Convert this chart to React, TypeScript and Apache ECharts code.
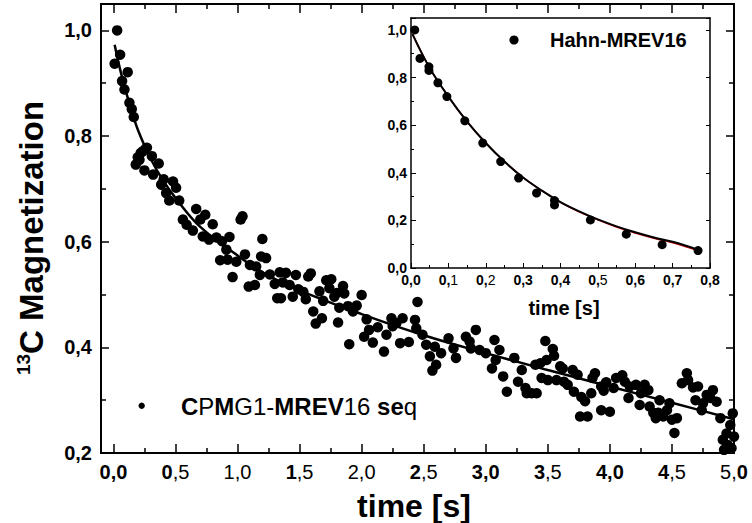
import React, { useEffect, useRef } from "react";
import * as echarts from "echarts";

// ---------------- data ----------------
const mainSeriesName = "CPMG1-MREV16 seq";
const insetSeriesName = "Hahn-MREV16";

const mainTime = [
  0.01, 0.03, 0.054, 0.07, 0.089, 0.115, 0.129, 0.148, 0.164, 0.18, 0.196, 0.21, 0.22, 0.236, 0.25, 0.26, 0.27,
  0.31, 0.32, 0.365, 0.385, 0.405, 0.425, 0.45, 0.48, 0.505, 0.53, 0.56, 0.59, 0.64, 0.667, 0.7, 0.72, 0.74,
  0.77, 0.8, 0.83, 0.86, 0.875, 0.91, 0.92, 0.935, 0.96, 0.99, 1.025, 1.04, 1.06, 1.09, 1.1, 1.14, 1.15, 1.18,
  1.19, 1.2, 1.23, 1.26, 1.3, 1.32, 1.34, 1.35, 1.365, 1.39, 1.42, 1.445, 1.47, 1.49, 1.53, 1.55, 1.57, 1.59,
  1.61, 1.63, 1.66, 1.68, 1.69, 1.715, 1.74, 1.755, 1.78, 1.8, 1.81, 1.82, 1.85, 1.86, 1.89, 1.9, 1.93, 1.96,
  2.0, 2.02, 2.04, 2.06, 2.09, 2.13, 2.18, 2.2, 2.24, 2.25, 2.28, 2.31, 2.33, 2.38, 2.43, 2.44, 2.45, 2.49,
  2.52, 2.55, 2.57, 2.59, 2.6, 2.64, 2.7, 2.74, 2.76, 2.84, 2.87, 2.88, 2.92, 2.95, 3.0, 3.05, 3.07, 3.08,
  3.11, 3.14, 3.17, 3.23, 3.26, 3.29, 3.32, 3.33, 3.37, 3.4, 3.41, 3.44, 3.45, 3.48, 3.49, 3.5, 3.54, 3.55,
  3.57, 3.6, 3.62, 3.63, 3.66, 3.7, 3.71, 3.74, 3.76, 3.77, 3.8, 3.82, 3.85, 3.86, 3.88, 3.93, 3.93, 3.95,
  3.97, 4.0, 4.03, 4.05, 4.1, 4.12, 4.15, 4.16, 4.21, 4.24, 4.25, 4.28, 4.31, 4.32, 4.35, 4.37, 4.39, 4.4,
  4.43, 4.46, 4.48, 4.5, 4.52, 4.54, 4.58, 4.62, 4.63, 4.67, 4.69, 4.71, 4.74, 4.75, 4.78, 4.81, 4.83, 4.86,
  4.89, 4.91, 4.92, 4.94, 4.95, 4.97, 4.98, 4.99, 5.0,
];
const mainMag = [
  0.937, 1.0, 0.954, 0.904, 0.888, 0.921, 0.863, 0.851, 0.836, 0.746, 0.76, 0.755, 0.768, 0.771, 0.735, 0.776, 0.778,
  0.762, 0.727, 0.748, 0.708, 0.718, 0.692, 0.678, 0.714, 0.702, 0.678, 0.642, 0.632, 0.621, 0.662, 0.642, 0.61, 0.651,
  0.604, 0.633, 0.608, 0.565, 0.601, 0.585, 0.566, 0.609, 0.533, 0.562, 0.642, 0.648, 0.576, 0.515, 0.556, 0.518, 0.553, 0.537,
  0.572, 0.605, 0.569, 0.538, 0.52, 0.493, 0.542, 0.493, 0.523, 0.541, 0.518, 0.496, 0.537, 0.51, 0.505, 0.491, 0.534, 0.54,
  0.468, 0.445, 0.506, 0.455, 0.488, 0.527, 0.512, 0.529, 0.496, 0.503, 0.447, 0.475, 0.516, 0.502, 0.478, 0.406, 0.468, 0.479,
  0.499, 0.42, 0.453, 0.433, 0.409, 0.438, 0.392, 0.424, 0.455, 0.44, 0.446, 0.408, 0.455, 0.41, 0.452, 0.436, 0.486, 0.424,
  0.405, 0.383, 0.356, 0.401, 0.367, 0.389, 0.417, 0.398, 0.38, 0.42, 0.411, 0.398, 0.433, 0.395, 0.389, 0.36, 0.414, 0.376,
  0.395, 0.345, 0.316, 0.38, 0.335, 0.357, 0.323, 0.313, 0.313, 0.367, 0.313, 0.37, 0.342, 0.412, 0.376, 0.338, 0.397, 0.384,
  0.338, 0.364, 0.36, 0.335, 0.329, 0.357, 0.316, 0.348, 0.269, 0.306, 0.298, 0.269, 0.313, 0.342, 0.351, 0.326, 0.281, 0.318,
  0.334, 0.278, 0.323, 0.342, 0.347, 0.335, 0.304, 0.326, 0.329, 0.291, 0.313, 0.329, 0.319, 0.288, 0.276, 0.266, 0.276, 0.3,
  0.269, 0.281, 0.294, 0.263, 0.238, 0.266, 0.332, 0.351, 0.338, 0.324, 0.3, 0.326, 0.281, 0.294, 0.31, 0.304, 0.319, 0.297,
  0.266, 0.225, 0.206, 0.237, 0.215, 0.253, 0.209, 0.275, 0.231,
];

const mainFitTime = [0.01, 0.05, 0.1, 0.15, 0.2, 0.3, 0.4, 0.5, 0.7, 1.0, 1.2, 1.5, 2.0, 2.5, 3.0, 3.5, 4.0, 4.5, 5.0];
const mainFitMag = [0.973, 0.93, 0.885, 0.845, 0.81, 0.757, 0.716, 0.683, 0.628, 0.574, 0.542, 0.508, 0.463, 0.423, 0.389, 0.357, 0.326, 0.295, 0.264];

const insetTime = [0.01, 0.024, 0.048, 0.048, 0.072, 0.096, 0.144, 0.192, 0.24, 0.288, 0.336, 0.384, 0.384, 0.48, 0.576, 0.672, 0.768];
const insetMag = [1.0, 0.88, 0.845, 0.83, 0.778, 0.72, 0.618, 0.525, 0.447, 0.378, 0.315, 0.283, 0.265, 0.202, 0.142, 0.098, 0.073];

const insetFitTime = [0.004, 0.05, 0.1, 0.15, 0.2, 0.25, 0.3, 0.35, 0.4, 0.45, 0.5, 0.55, 0.6, 0.65, 0.7, 0.77];
const insetFitMag = [0.982, 0.84, 0.72, 0.615, 0.525, 0.447, 0.38, 0.325, 0.277, 0.238, 0.204, 0.175, 0.15, 0.128, 0.11, 0.076];
const insetFitRedMag = [0.982, 0.84, 0.72, 0.615, 0.525, 0.447, 0.38, 0.325, 0.276, 0.236, 0.202, 0.172, 0.147, 0.125, 0.106, 0.072];

const xTickValues = [0, 0.5, 1, 1.5, 2, 2.5, 3, 3.5, 4, 4.5, 5];
const xTickLabels = ["0,0", "0,5", "1,0", "1,5", "2,0", "2,5", "3,0", "3,5", "4,0", "4,5", "5,0"];
const xMinorValues = [0.25, 0.75, 1.25, 1.75, 2.25, 2.75, 3.25, 3.75, 4.25, 4.75];
const yTickValues = [0.2, 0.4, 0.6, 0.8, 1.0];
const yTickLabels = ["0,2", "0,4", "0,6", "0,8", "1,0"];
const yMinorValues = [0.3, 0.5, 0.7, 0.9];
const insetXTickLabels = ["0,0", "0,1", "0,2", "0,3", "0,4", "0,5", "0,6", "0,7", "0,8"];
const insetYTickLabels = ["0,0", "0,2", "0,4", "0,6", "0,8", "1,0"];

// ---------------- styles ----------------
const FONT = '"Liberation Sans", Arial, Helvetica, sans-serif';
// per-character weight masks (b = bold, n = normal), mimicking the reference rendering
const xLabelMask = ["bbb", "bnn", "nnn", "bnn", "nnn", "bnn", "bbb", "bnn", "bbb", "bnn", "nnb"];
const insetXLabelMask = ["bbb", "bbn", "bbn", "bbb", "bbb", "bbn", "bbb", "bbb", "bbb"];
const legendMask = "bnbnnnbbbbnnnbbn";

function richify(text: string, mask: string) {
  let out = "";
  let cur = "";
  let curStyle = "";
  for (let i = 0; i < text.length; i++) {
    const s = mask[i] === "b" ? "b" : "n";
    if (s !== curStyle && cur) {
      out += `{${curStyle}|${cur}}`;
      cur = "";
    }
    curStyle = s;
    cur += text[i];
  }
  if (cur) out += `{${curStyle}|${cur}}`;
  return out;
}

function richStyles(size: number) {
  return {
    b: { fontFamily: FONT, fontSize: size, fontWeight: "bold", color: "#000" },
    n: { fontFamily: FONT, fontSize: size, fontWeight: "normal", color: "#000" },
  };
}

const BLACK = "#000";

function mainXAxis(position: string, values: number[], len: number, labels: boolean) {
  return {
    type: "value",
    gridIndex: 0,
    min: -0.1,
    max: 5,
    position,
    axisLine: { show: true, onZero: false, lineStyle: { color: BLACK, width: 2 } },
    axisTick: { show: true, inside: true, length: len, customValues: values, lineStyle: { color: BLACK, width: 1.5 } },
    axisLabel: labels
      ? {
          show: true,
          customValues: values,
          margin: 9,
          formatter: (v: number) => {
            const i = xTickValues.findIndex((t) => Math.abs(t - v) < 1e-6);
            return i < 0 ? "" : richify(xTickLabels[i], xLabelMask[i]);
          },
          rich: richStyles(20),
        }
      : { show: false },
    splitLine: { show: false },
  };
}

function mainYAxis(position: string, values: number[], len: number, labels: boolean) {
  return {
    type: "value",
    gridIndex: 0,
    min: 0.2,
    max: 1.05,
    position,
    axisLine: { show: true, onZero: false, lineStyle: { color: BLACK, width: 2 } },
    axisTick: { show: true, inside: true, length: len, customValues: values, lineStyle: { color: BLACK, width: 1.5 } },
    axisLabel: labels
      ? {
          show: true,
          customValues: values,
          margin: 9,
          fontFamily: FONT,
          fontSize: 20,
          fontWeight: "bold",
          color: BLACK,
          formatter: (v: number) => {
            const i = yTickValues.findIndex((t) => Math.abs(t - v) < 1e-6);
            return i < 0 ? "" : yTickLabels[i];
          },
        }
      : { show: false },
    splitLine: { show: false },
  };
}

export default function App() {
  const ref = useRef<HTMLDivElement>(null);

  useEffect(() => {
    if (!ref.current) return;
    const chart = echarts.init(ref.current, null, { renderer: "svg" });

    const option: any = {
      animation: false,
      backgroundColor: "#fff",
      grid: [
        { left: 101, top: 4, width: 633, height: 449, containLabel: false },
        { left: 411, top: 18, width: 299, height: 250, containLabel: false },
      ],
      xAxis: [
        mainXAxis("bottom", xTickValues, 9, true),
        mainXAxis("bottom", xMinorValues, 5, false),
        mainXAxis("top", xTickValues, 9, false),
        mainXAxis("top", xMinorValues, 5, false),
        {
          type: "value",
          gridIndex: 1,
          min: 0,
          max: 0.8,
          interval: 0.1,
          position: "bottom",
          axisLine: { show: true, onZero: false, lineStyle: { color: BLACK, width: 1.5 } },
          axisTick: { show: true, inside: true, length: 5, lineStyle: { color: BLACK, width: 1 } },
          minorTick: { show: true, splitNumber: 2, length: 3, lineStyle: { color: BLACK, width: 1 } },
          axisLabel: {
            show: true,
            margin: 5,
            formatter: (v: number) => {
              const i = Math.round(v / 0.1);
              return Math.abs(v - i * 0.1) < 1e-6 && insetXTickLabels[i] ? richify(insetXTickLabels[i], insetXLabelMask[i]) : "";
            },
            rich: richStyles(14),
          },
          splitLine: { show: false },
        },
        {
          type: "value",
          gridIndex: 1,
          min: 0,
          max: 0.8,
          interval: 0.1,
          position: "top",
          axisLine: { show: true, onZero: false, lineStyle: { color: BLACK, width: 1.5 } },
          axisTick: { show: false },
          axisLabel: { show: false },
          splitLine: { show: false },
        },
      ],
      yAxis: [
        mainYAxis("left", yTickValues, 8, true),
        mainYAxis("left", yMinorValues, 5, false),
        mainYAxis("right", yTickValues, 8, false),
        mainYAxis("right", yMinorValues, 5, false),
        {
          type: "value",
          gridIndex: 1,
          min: 0,
          max: 1.05,
          interval: 0.2,
          position: "left",
          axisLine: { show: true, onZero: false, lineStyle: { color: BLACK, width: 1.5 } },
          axisTick: { show: true, inside: true, length: 5, lineStyle: { color: BLACK, width: 1 } },
          minorTick: { show: true, splitNumber: 2, length: 3, lineStyle: { color: BLACK, width: 1 } },
          axisLabel: {
            show: true,
            showMaxLabel: false,
            margin: 4,
            fontFamily: FONT,
            fontSize: 14,
            fontWeight: "bold",
            color: BLACK,
            formatter: (v: number) => {
              const i = Math.round(v / 0.2);
              return Math.abs(v - i * 0.2) < 1e-6 && insetYTickLabels[i] ? insetYTickLabels[i] : "";
            },
          },
          splitLine: { show: false },
        },
        {
          type: "value",
          gridIndex: 1,
          min: 0,
          max: 1.05,
          interval: 0.2,
          position: "right",
          axisLine: { show: true, onZero: false, lineStyle: { color: BLACK, width: 1.5 } },
          axisTick: { show: true, inside: true, length: 4, lineStyle: { color: BLACK, width: 1 } },
          axisLabel: { show: false },
          splitLine: { show: false },
        },
      ],
      series: [
        {
          name: mainSeriesName,
          type: "scatter",
          xAxisIndex: 0,
          yAxisIndex: 0,
          symbol: "circle",
          symbolSize: 10.5,
          itemStyle: { color: BLACK, opacity: 1 },
          data: mainTime.map((t, i) => [t, mainMag[i]]),
          z: 3,
        },
        {
          name: "fit",
          type: "line",
          xAxisIndex: 0,
          yAxisIndex: 0,
          smooth: 0.4,
          showSymbol: false,
          symbol: "none",
          lineStyle: { color: BLACK, width: 2.5 },
          data: mainFitTime.map((t, i) => [t, mainFitMag[i]]),
          z: 4,
        },
        {
          name: "inset fit red",
          type: "line",
          xAxisIndex: 4,
          yAxisIndex: 4,
          smooth: 0.4,
          showSymbol: false,
          symbol: "none",
          lineStyle: { color: "#d00000", width: 1.5 },
          data: insetFitTime.map((t, i) => [t, insetFitRedMag[i]]),
          z: 2,
        },
        {
          name: insetSeriesName,
          type: "scatter",
          xAxisIndex: 4,
          yAxisIndex: 4,
          symbol: "circle",
          symbolSize: 9,
          itemStyle: { color: BLACK, opacity: 1 },
          data: insetTime.map((t, i) => [t, insetMag[i]]),
          z: 3,
        },
        {
          name: "inset fit",
          type: "line",
          xAxisIndex: 4,
          yAxisIndex: 4,
          smooth: 0.4,
          showSymbol: false,
          symbol: "none",
          lineStyle: { color: BLACK, width: 2 },
          data: insetFitTime.map((t, i) => [t, insetFitMag[i]]),
          z: 4,
        },
      ],
      graphic: [
        // main legend
        { type: "circle", shape: { cx: 141.7, cy: 405.7, r: 3.2 }, style: { fill: BLACK } },
        {
          type: "text",
          x: 181,
          y: 406,
          style: {
            text: richify(mainSeriesName, legendMask),
            rich: richStyles(24),
            verticalAlign: "middle",
            align: "left",
          },
        },
        // inset legend
        { type: "circle", shape: { cx: 514, cy: 40, r: 4.6 }, style: { fill: BLACK } },
        {
          type: "text",
          x: 550,
          y: 40,
          style: {
            text: insetSeriesName,
            font: `bold 20px ${FONT}`,
            fill: BLACK,
            verticalAlign: "middle",
            align: "left",
          },
        },
        // inset x title
        {
          type: "text",
          x: 564,
          y: 308,
          style: {
            text: "time [s]",
            font: `bold 20px ${FONT}`,
            fill: BLACK,
            verticalAlign: "middle",
            align: "center",
          },
        },
        // main x title
        {
          type: "text",
          x: 414,
          y: 506,
          style: {
            text: "time [s]",
            font: `bold 32px ${FONT}`,
            fill: BLACK,
            verticalAlign: "middle",
            align: "center",
          },
        },
        // main y title
        {
          type: "text",
          x: 31,
          y: 238,
          rotation: Math.PI / 2,
          style: {
            text: "{sup|13}{t|C Magnetization}",
            rich: {
              sup: { fontFamily: FONT, fontSize: 19, fontWeight: "bold", color: BLACK, verticalAlign: "top", lineHeight: 35 },
              t: { fontFamily: FONT, fontSize: 33, fontWeight: "bold", color: BLACK, lineHeight: 35 },
            },
            verticalAlign: "middle",
            align: "center",
          },
        },
      ],
    };

    chart.setOption(option);
    return () => chart.dispose();
  }, []);

  return (
    <div
      ref={ref}
      style={{ position: "fixed", left: 0, top: 0, width: 752, height: 523, background: "#fff" }}
    />
  );
}
